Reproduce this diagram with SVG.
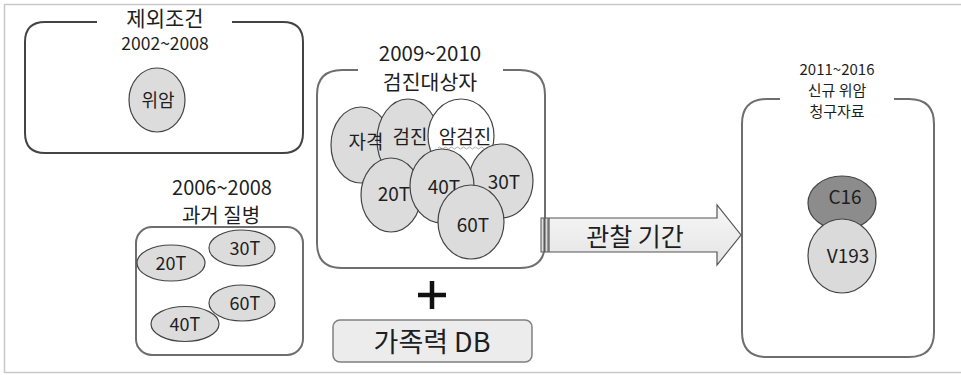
<svg xmlns="http://www.w3.org/2000/svg" width="961" height="375" viewBox="0 0 961 375">
<style>
text{font-family:"Noto Sans CJK KR","Noto Sans",sans-serif;fill:#1e1e1e;text-anchor:middle}
.box{fill:none;stroke:#6e6e6e;stroke-width:2}
.c{fill:#dcdcdc;stroke:#444;stroke-width:1.2}
.t15{font-size:15px}
.t18{font-size:18px}
.t19{font-size:19px}
.t20{font-size:20px}
</style>
<defs>
<linearGradient id="ag" x1="0" y1="0" x2="0" y2="1">
<stop offset="0" stop-color="#f7f7f7"/><stop offset="1" stop-color="#e4e4e4"/>
</linearGradient>
</defs>
<rect x="0" y="0" width="961" height="375" fill="#fff"/>
<path d="M4.5,373 V4.5 H961" fill="none" stroke="#c8c8c8" stroke-width="1.5"/>
<path d="M4.5,372.5 H961" fill="none" stroke="#c8c8c8" stroke-width="1.5"/>

<g id="exclusion">
<path class="box" style="stroke:#444" d="M97,22 H45 Q25,22 25,42 V133 Q25,153 45,153 H283 Q303,153 303,133 V42 Q303,22 283,22 H232"/>
<text x="165" y="26" style="font-size:21px">제외조건</text>
<text x="165" y="50" style="font-size:17.5px">2002~2008</text>
<ellipse class="c" cx="157" cy="100" rx="28" ry="32"/>
<text x="158" y="107" class="t18">위암</text>
</g>

<g id="past-disease">
<text x="222" y="195" class="t20">2006~2008</text>
<text x="221" y="223" class="t20">과거 질병</text>
<rect class="box" x="136" y="227" width="167" height="128" rx="16"/>
<ellipse class="c" cx="242" cy="248" rx="33" ry="18"/>
<text x="245" y="255" class="t18">30T</text>
<ellipse class="c" cx="171" cy="263" rx="34" ry="18"/>
<text x="171" y="270" class="t18">20T</text>
<ellipse class="c" cx="242" cy="303" rx="33" ry="18"/>
<text x="245" y="310" class="t18">60T</text>
<ellipse class="c" cx="185" cy="324" rx="34" ry="17.5"/>
<text x="185" y="331" class="t18">40T</text>
</g>

<g id="screening">
<path class="box" d="M358,70 H342 Q317,70 317,95 V243 Q317,268 342,268 H520 Q545,268 545,243 V95 Q545,70 520,70 H503"/>
<text x="430" y="61" style="font-size:20.5px">2009~2010</text>
<text x="430" y="90" style="font-size:20.5px">검진대상자</text>
<ellipse class="c" cx="361" cy="145" rx="30" ry="38"/>
<ellipse class="c" cx="408" cy="140" rx="31" ry="41"/>
<ellipse class="c" style="fill:#fff" cx="461" cy="136" rx="33" ry="37"/>
<text x="366" y="149" class="t19">자격</text>
<text x="410" y="144" class="t19">검진</text>
<text x="465" y="144" class="t19">암검진</text>
<path d="M438,148 q1.5,-2 3,0 t3,0 t3,0 t3,0 t3,0 t3,0 t3,0 t3,0 t3,0 t3,0 t3,0 t3,0 t3,0 t3,0 t3,0 t3,0 t3,0 t3,0" fill="none" stroke="#999" stroke-width="0.8"/>
<ellipse class="c" cx="391" cy="195" rx="30" ry="37"/>
<text x="394" y="201" class="t19">20T</text>
<ellipse class="c" cx="501" cy="181" rx="32" ry="37"/>
<text x="504" y="189" class="t19">30T</text>
<ellipse class="c" cx="442" cy="186" rx="32" ry="37"/>
<text x="444" y="194" class="t19">40T</text>
<ellipse class="c" cx="471" cy="222" rx="33" ry="37"/>
<text x="473" y="232" class="t19">60T</text>
</g>

<g id="family-db">
<path d="M418,295 H446 M432,281 V309" stroke="#111" stroke-width="4.5" fill="none"/>
<rect x="333" y="320" width="199" height="42" rx="7" fill="#ececec" stroke="#808080" stroke-width="1.5"/>
<text x="432" y="352" style="font-size:27px">가족력 DB</text>
</g>

<g id="new-cancer">
<path class="box" d="M780,99 H767 Q742,99 742,124 V332 Q742,357 767,357 H909 Q934,357 934,332 V124 Q934,99 909,99 H894"/>
<text x="837" y="75" class="t15">2011~2016</text>
<text x="837" y="96" class="t15">신규 위암</text>
<text x="837" y="117" class="t15">청구자료</text>
<ellipse cx="842" cy="203" rx="34" ry="27" fill="#8c8c8c" stroke="#444" stroke-width="1.2"/>
<text x="845" y="204" class="t19">C16</text>
<ellipse cx="842" cy="256" rx="34" ry="37" fill="#dadada" stroke="#444" stroke-width="1.2"/>
<text x="848" y="263" class="t19">V193</text>
</g>

<g id="connectors">
<path d="M549,218 H717 V205 L741,235 L717,265 V252 H549 Z" fill="url(#ag)" stroke="#555" stroke-width="1.2"/>
<rect x="541" y="218" width="3" height="34" fill="#ddd" stroke="#555" stroke-width="1"/>
<rect x="545" y="218" width="3" height="34" fill="#ddd" stroke="#555" stroke-width="1"/>
<text x="635" y="246" style="font-size:25px">관찰 기간</text>
</g>
</svg>
